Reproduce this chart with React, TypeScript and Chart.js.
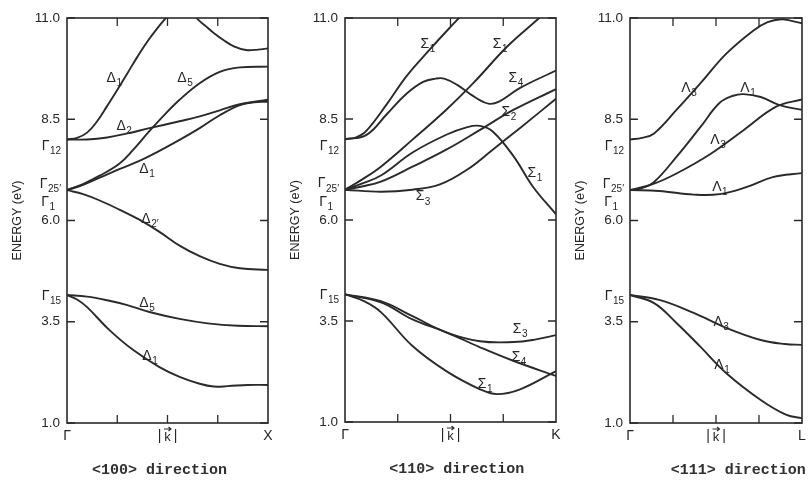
import React, { useEffect, useRef } from "react";
import { Chart, registerables } from "chart.js";
Chart.register(...registerables);

type Pt = [number, number];

// ---------- shared axis values ----------
const Y_MIN = 1.0;
const Y_MAX = 11.0;
const Y_TICK_VALUES = [1.0, 3.5, 6.0, 8.5, 11.0];
const Y_TICK_LABELS = ["1.0", "3.5", "6.0", "8.5", "11.0"];
const X_TICK_VALUES = [0.25, 0.5, 0.75];
// Gamma-point labels on the energy axis: [symbol subscript, energy]
const GAMMA_SUBS = ["12", "25\u2032", "1", "15"];
const GAMMA_LABEL_E = [7.84, 6.9, 6.45, 4.14];

// ---------- <100> direction ----------
const D100_DELTA1_HIGH: Pt[] = [[0, 8.0], [0.05, 8.04], [0.1, 8.17], [0.15, 8.45], [0.2, 8.83], [0.25, 9.22], [0.3, 9.63], [0.35, 10.04], [0.4, 10.42], [0.45, 10.75], [0.5, 11.05], [0.55, 11.35]];
const D100_TOP: Pt[] = [[0.6, 11.35], [0.645, 11.0], [0.69, 10.8], [0.73, 10.63], [0.78, 10.45], [0.83, 10.3], [0.89, 10.21], [0.95, 10.22], [1.0, 10.25]];
const D100_DELTA2: Pt[] = [[0, 8.0], [0.1, 8.0], [0.2, 8.05], [0.3, 8.15], [0.41, 8.28], [0.56, 8.45], [0.66, 8.57], [0.76, 8.72], [0.86, 8.87], [1.0, 8.98]];
const D100_DELTA5_HIGH: Pt[] = [[0, 6.75], [0.08, 6.9], [0.16, 7.1], [0.26, 7.4], [0.33, 7.75], [0.4, 8.15], [0.46, 8.48], [0.56, 8.98], [0.66, 9.39], [0.76, 9.67], [0.86, 9.78], [1.0, 9.8]];
const D100_DELTA1_MID: Pt[] = [[0, 6.75], [0.08, 6.88], [0.16, 7.05], [0.26, 7.27], [0.36, 7.47], [0.46, 7.72], [0.56, 7.99], [0.66, 8.28], [0.76, 8.6], [0.86, 8.85], [0.93, 8.92], [1.0, 8.93]];
const D100_DELTA2P: Pt[] = [[0, 6.75], [0.08, 6.65], [0.16, 6.5], [0.26, 6.27], [0.36, 6.02], [0.46, 5.72], [0.56, 5.38], [0.66, 5.12], [0.76, 4.93], [0.86, 4.82], [1.0, 4.78]];
const D100_DELTA5_LOW: Pt[] = [[0, 4.16], [0.1, 4.12], [0.2, 4.03], [0.3, 3.91], [0.41, 3.74], [0.56, 3.57], [0.7, 3.46], [0.85, 3.4], [1.0, 3.39]];
const D100_DELTA1_LOW: Pt[] = [[0, 4.16], [0.05, 4.05], [0.1, 3.86], [0.21, 3.3], [0.33, 2.8], [0.46, 2.38], [0.56, 2.14], [0.66, 1.97], [0.73, 1.9], [0.8, 1.91], [0.9, 1.94], [1.0, 1.94]];
const D100_LABEL_TEXT = ["\u0394", "\u0394", "\u0394", "\u0394", "\u0394", "\u0394", "\u0394"];
const D100_LABEL_SUB = ["1", "5", "2", "1", "2\u2032", "5", "1"];
const D100_LABEL_AT: Pt[] = [[0.235, 9.52], [0.587, 9.52], [0.284, 8.33], [0.398, 7.27], [0.413, 6.04], [0.398, 3.96], [0.413, 2.65]];

// ---------- <110> direction ----------
const D110_SIGMA1_HIGH: Pt[] = [[0, 8.0], [0.05, 8.04], [0.1, 8.2], [0.2, 8.88], [0.29, 9.55], [0.4, 10.21], [0.5, 10.78], [0.55, 11.05], [0.6, 11.3]];
const D110_SIGMA4_HIGH: Pt[] = [[0, 8.0], [0.1, 8.1], [0.2, 8.63], [0.29, 9.12], [0.37, 9.42], [0.43, 9.5], [0.47, 9.5], [0.53, 9.35], [0.61, 9.06], [0.68, 8.88], [0.73, 8.93], [0.83, 9.27], [1.0, 9.7]];
const D110_SIGMA1_MID: Pt[] = [[0, 6.75], [0.08, 7.0], [0.17, 7.32], [0.32, 7.99], [0.48, 8.73], [0.61, 9.4], [0.77, 10.3], [0.92, 11.0], [1.0, 11.4]];
const D110_SIGMA1_PEAK: Pt[] = [[0, 6.75], [0.08, 6.9], [0.17, 7.1], [0.32, 7.67], [0.48, 8.11], [0.58, 8.3], [0.64, 8.33], [0.7, 8.19], [0.8, 7.57], [0.89, 6.83], [1.0, 6.14]];
const D110_SIGMA2: Pt[] = [[0, 6.75], [0.08, 6.83], [0.17, 6.95], [0.32, 7.32], [0.48, 7.74], [0.64, 8.23], [0.8, 8.73], [1.0, 9.24]];
const D110_SIGMA3_HIGH: Pt[] = [[0, 6.75], [0.17, 6.7], [0.32, 6.75], [0.45, 6.88], [0.58, 7.25], [0.7, 7.74], [0.83, 8.28], [1.0, 9.0]];
const D110_SIGMA3_LOW: Pt[] = [[0, 4.16], [0.17, 3.99], [0.32, 3.62], [0.48, 3.22], [0.64, 3.0], [0.8, 2.98], [0.9, 3.04], [1.0, 3.15]];
const D110_SIGMA4_LOW: Pt[] = [[0, 4.16], [0.17, 3.96], [0.32, 3.54], [0.48, 3.22], [0.64, 2.85], [0.8, 2.51], [1.0, 2.14]];
const D110_SIGMA1_LOW: Pt[] = [[0, 4.16], [0.09, 3.99], [0.17, 3.72], [0.32, 2.88], [0.48, 2.26], [0.64, 1.81], [0.72, 1.69], [0.83, 1.81], [1.0, 2.26]];
const D110_LABEL_TEXT = ["\u03A3", "\u03A3", "\u03A3", "\u03A3", "\u03A3", "\u03A3", "\u03A3", "\u03A3", "\u03A3"];
const D110_LABEL_SUB = ["1", "1", "4", "2", "1", "3", "3", "4", "1"];
const D110_LABEL_AT: Pt[] = [[0.393, 10.36], [0.735, 10.36], [0.81, 9.52], [0.777, 8.68], [0.9, 7.17], [0.37, 6.58], [0.83, 3.3], [0.825, 2.6], [0.664, 1.94]];

// ---------- <111> direction ----------
const D111_LAMBDA3_HIGH: Pt[] = [[0, 8.0], [0.07, 8.04], [0.14, 8.15], [0.27, 8.73], [0.41, 9.39], [0.56, 10.12], [0.72, 10.7], [0.8, 10.9], [0.88, 10.97], [0.94, 10.93], [1.0, 10.87]];
const D111_LAMBDA1_HIGH: Pt[] = [[0, 6.75], [0.07, 6.8], [0.14, 6.95], [0.27, 7.57], [0.41, 8.31], [0.52, 8.9], [0.6, 9.08], [0.66, 9.12], [0.76, 9.05], [0.87, 8.85], [1.0, 8.73]];
const D111_LAMBDA3_MID: Pt[] = [[0, 6.75], [0.14, 6.91], [0.27, 7.16], [0.47, 7.65], [0.66, 8.23], [0.85, 8.81], [1.0, 8.99]];
const D111_LAMBDA1_MID: Pt[] = [[0, 6.75], [0.17, 6.73], [0.37, 6.64], [0.52, 6.65], [0.68, 6.83], [0.83, 7.07], [1.0, 7.17]];
const D111_LAMBDA3_LOW: Pt[] = [[0, 4.16], [0.17, 4.04], [0.37, 3.72], [0.56, 3.35], [0.76, 3.05], [0.9, 2.95], [1.0, 2.93]];
const D111_LAMBDA1_LOW: Pt[] = [[0, 4.16], [0.14, 3.96], [0.27, 3.47], [0.41, 2.88], [0.56, 2.23], [0.76, 1.57], [0.91, 1.2], [1.0, 1.12]];
const D111_LABEL_TEXT = ["\u039B", "\u039B", "\u039B", "\u039B", "\u039B", "\u039B"];
const D111_LABEL_SUB = ["3", "1", "3", "1", "3", "1"];
const D111_LABEL_AT: Pt[] = [[0.343, 9.27], [0.686, 9.27], [0.512, 7.99], [0.523, 6.83], [0.53, 3.5], [0.535, 2.43]];

const PANEL_TITLES = ["<100> direction", "<110> direction", "<111> direction"];
const PANEL_END_LABELS = ["X", "K", "L"];
const PANEL_TITLE_K = [0.46, 0.53, 0.63];

// ---------- styling ----------
const LINE = "#2a2a2a";
const TEXT = "#262626";
const SANS = '"Liberation Sans", Arial, Helvetica, sans-serif';
const MONO = '"Liberation Mono", "Courier New", monospace';

type PanelDef = {
  bands: Pt[][];
  labelText: string[];
  labelSub: string[];
  labelAt: Pt[];
  endLabel: string;
  title: string;
  titleK: number;
  canvasLeft: number;
  canvasWidth: number;
  padding: { left: number; right: number; top: number; bottom: number };
};

function drawSub(ctx: CanvasRenderingContext2D, main: string, sub: string, x: number, y: number, align: string, mainPx: number, subPx: number) {
  ctx.font = `${mainPx}px ${SANS}`;
  const wm = ctx.measureText(main).width;
  ctx.font = `${subPx}px ${SANS}`;
  const ws = ctx.measureText(sub).width;
  const total = wm + ws + 0.5;
  const x0 = align === "center" ? x - total / 2 : align === "right" ? x - total : x;
  ctx.textAlign = "left";
  ctx.textBaseline = "middle";
  ctx.font = `${mainPx}px ${SANS}`;
  ctx.fillText(main, x0, y);
  ctx.font = `${subPx}px ${SANS}`;
  ctx.fillText(sub, x0 + wm + 0.5, y + mainPx * 0.38);
}

function makeDecor(p: PanelDef) {
  return {
    id: "decor",
    afterDatasetsDraw(chart: any) {
      const ctx: CanvasRenderingContext2D = chart.ctx;
      const a = chart.chartArea;
      const xs = chart.scales.x;
      const ys = chart.scales.y;
      ctx.save();
      // frame
      ctx.strokeStyle = LINE;
      ctx.lineWidth = 1.6;
      ctx.strokeRect(a.left, a.top, a.right - a.left, a.bottom - a.top);
      // inward ticks
      const TL = 8;
      ctx.lineWidth = 1.3;
      ctx.beginPath();
      for (const v of Y_TICK_VALUES) {
        const y = ys.getPixelForValue(v);
        ctx.moveTo(a.left, y); ctx.lineTo(a.left + TL, y);
        ctx.moveTo(a.right, y); ctx.lineTo(a.right - TL, y);
      }
      for (const v of X_TICK_VALUES) {
        const x = xs.getPixelForValue(v);
        ctx.moveTo(x, a.top); ctx.lineTo(x, a.top + TL);
        ctx.moveTo(x, a.bottom); ctx.lineTo(x, a.bottom - TL);
      }
      ctx.stroke();
      ctx.fillStyle = TEXT;
      // y tick labels
      ctx.font = `13.5px ${SANS}`;
      ctx.textAlign = "right";
      ctx.textBaseline = "middle";
      Y_TICK_VALUES.forEach((v, i) => ctx.fillText(Y_TICK_LABELS[i], a.left - 7, ys.getPixelForValue(v)));
      // gamma labels
      GAMMA_SUBS.forEach((s, i) => {
        const right = s === "1" ? a.left - 12 : a.left - 6;
        drawSub(ctx, "\u0393", s, right, ys.getPixelForValue(GAMMA_LABEL_E[i]), "right", 14, 10);
      });
      // y axis title
      ctx.save();
      ctx.translate(a.left - 49, (a.top + a.bottom) / 2);
      ctx.rotate(-Math.PI / 2);
      ctx.font = `12.5px ${SANS}`;
      ctx.textAlign = "center";
      ctx.textBaseline = "middle";
      ctx.fillText("ENERGY (eV)", 0, 0);
      ctx.restore();
      // x labels
      const yx = a.bottom + 13;
      ctx.font = `14px ${SANS}`;
      ctx.textAlign = "center";
      ctx.textBaseline = "middle";
      ctx.fillText("\u0393", xs.getPixelForValue(0), yx);
      ctx.fillText(p.endLabel, xs.getPixelForValue(1), yx);
      const cx = xs.getPixelForValue(0.5);
      ctx.fillText("|", cx - 8, yx);
      ctx.fillText("|", cx + 8, yx);
      ctx.font = `13px ${SANS}`;
      ctx.fillText("k", cx, yx + 1);
      ctx.lineWidth = 1.1;
      ctx.beginPath();
      ctx.moveTo(cx - 3.5, yx - 7); ctx.lineTo(cx + 3.5, yx - 7);
      ctx.moveTo(cx + 1, yx - 9); ctx.lineTo(cx + 3.5, yx - 7); ctx.lineTo(cx + 1, yx - 5);
      ctx.stroke();
      // curve labels
      p.labelText.forEach((t, i) => {
        const [k, e] = p.labelAt[i];
        drawSub(ctx, t, p.labelSub[i], xs.getPixelForValue(k), ys.getPixelForValue(e), "center", 14, 10);
      });
      // panel title
      ctx.font = `bold 15px ${MONO}`;
      ctx.fillStyle = "#303030";
      ctx.textAlign = "center";
      ctx.textBaseline = "middle";
      ctx.fillText(p.title, xs.getPixelForValue(p.titleK), a.bottom + 47);
      ctx.restore();
    },
  };
}

function buildConfig(p: PanelDef): any {
  return {
    type: "line",
    data: {
      datasets: p.bands.map((b) => ({
        data: b.map(([x, y]) => ({ x, y })),
        borderColor: LINE,
        borderWidth: 1.9,
        pointRadius: 0,
        fill: false,
        tension: 0.4,
      })),
    },
    options: {
      responsive: false,
      animation: false,
      events: [],
      layout: { padding: p.padding },
      scales: {
        x: { type: "linear", min: 0, max: 1, display: false },
        y: { type: "linear", min: Y_MIN, max: Y_MAX, display: false },
      },
      plugins: { legend: { display: false }, tooltip: { enabled: false }, title: { display: false } },
    },
    plugins: [makeDecor(p)],
  };
}

const PANELS: PanelDef[] = [
  {
    bands: [D100_DELTA1_HIGH, D100_TOP, D100_DELTA2, D100_DELTA5_HIGH, D100_DELTA1_MID, D100_DELTA2P, D100_DELTA5_LOW, D100_DELTA1_LOW],
    labelText: D100_LABEL_TEXT, labelSub: D100_LABEL_SUB, labelAt: D100_LABEL_AT,
    endLabel: PANEL_END_LABELS[0], title: PANEL_TITLES[0], titleK: PANEL_TITLE_K[0],
    canvasLeft: 0, canvasWidth: 290,
    padding: { left: 67, right: 22, top: 18, bottom: 57 },
  },
  {
    bands: [D110_SIGMA1_HIGH, D110_SIGMA4_HIGH, D110_SIGMA1_MID, D110_SIGMA1_PEAK, D110_SIGMA2, D110_SIGMA3_HIGH, D110_SIGMA3_LOW, D110_SIGMA4_LOW, D110_SIGMA1_LOW],
    labelText: D110_LABEL_TEXT, labelSub: D110_LABEL_SUB, labelAt: D110_LABEL_AT,
    endLabel: PANEL_END_LABELS[1], title: PANEL_TITLES[1], titleK: PANEL_TITLE_K[1],
    canvasLeft: 280, canvasWidth: 290,
    padding: { left: 65, right: 14, top: 18, bottom: 58 },
  },
  {
    bands: [D111_LAMBDA3_HIGH, D111_LAMBDA1_HIGH, D111_LAMBDA3_MID, D111_LAMBDA1_MID, D111_LAMBDA3_LOW, D111_LAMBDA1_LOW],
    labelText: D111_LABEL_TEXT, labelSub: D111_LABEL_SUB, labelAt: D111_LABEL_AT,
    endLabel: PANEL_END_LABELS[2], title: PANEL_TITLES[2], titleK: PANEL_TITLE_K[2],
    canvasLeft: 560, canvasWidth: 251,
    padding: { left: 70, right: 9, top: 18, bottom: 57 },
  },
];

function Panel({ def }: { def: PanelDef }) {
  const ref = useRef<HTMLCanvasElement | null>(null);
  useEffect(() => {
    if (!ref.current) return;
    const chart = new Chart(ref.current, buildConfig(def));
    return () => chart.destroy();
  }, [def]);
  return (
    <canvas
      ref={ref}
      width={def.canvasWidth}
      height={480}
      style={{ position: "absolute", left: def.canvasLeft, top: 0, width: def.canvasWidth, height: 480 }}
    />
  );
}

export default function App() {
  return (
    <div style={{ position: "absolute", left: 0, top: 0, width: 811, height: 480, background: "#ffffff", overflow: "hidden" }}>
      {PANELS.map((p, i) => (
        <Panel key={i} def={p} />
      ))}
    </div>
  );
}
